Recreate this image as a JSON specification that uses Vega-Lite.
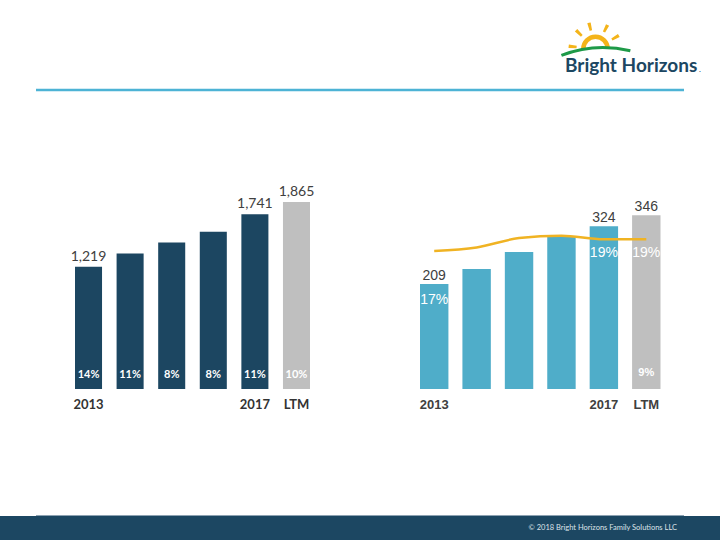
{
  "$schema": "https://vega.github.io/schema/vega-lite/v6.json",
  "width": 720,
  "height": 540,
  "autosize": {"type": "fit", "contains": "padding"},
  "padding": 0,
  "background": "white",
  "config": {"view": {"stroke": null}},
  "datasets": {
    "revenue": [
      {"period": "2013", "revenue": 1219, "growth": 0.14},
      {"period": "2014", "revenue": 1352, "growth": 0.11},
      {"period": "2015", "revenue": 1461, "growth": 0.08},
      {"period": "2016", "revenue": 1568, "growth": 0.08},
      {"period": "2017", "revenue": 1741, "growth": 0.11},
      {"period": "LTM", "revenue": 1865, "growth": 0.10}
    ],
    "ebitda": [
      {"period": "2013", "ebitda": 209, "margin": 0.170, "growth": null},
      {"period": "2014", "ebitda": 239, "margin": 0.176, "growth": null},
      {"period": "2015", "ebitda": 273, "margin": 0.192, "growth": null},
      {"period": "2016", "ebitda": 303, "margin": 0.196, "growth": null},
      {"period": "2017", "ebitda": 324, "margin": 0.190, "growth": null},
      {"period": "LTM", "ebitda": 346, "margin": 0.190, "growth": 0.09}
    ]
  },
  "resolve": {"scale": {"x": "independent", "y": "independent", "color": "independent"}},
  "layer": [
    {
      "data": {"values": [{}]},
      "mark": {"type": "rule", "stroke": "#4DB3D5", "strokeWidth": 2.5},
      "encoding": {"x": {"value": 36}, "x2": {"value": 684}, "y": {"value": 90}}
    },
    {
      "data": {"values": [{}]},
      "mark": {"type": "arc", "x": 595.5, "y": 49, "innerRadius": 19, "outerRadius": 27, "theta": -1.53, "theta2": -1.40, "fill": "#F4B41A"},
      "encoding": {}
    },
    {
      "data": {"values": [{}]},
      "mark": {"type": "arc", "x": 595.5, "y": 49, "innerRadius": 19, "outerRadius": 27, "theta": -0.87, "theta2": -0.74, "fill": "#F4B41A"},
      "encoding": {}
    },
    {
      "data": {"values": [{}]},
      "mark": {"type": "arc", "x": 595.5, "y": 49, "innerRadius": 19, "outerRadius": 27, "theta": -0.31, "theta2": -0.18, "fill": "#F4B41A"},
      "encoding": {}
    },
    {
      "data": {"values": [{}]},
      "mark": {"type": "arc", "x": 595.5, "y": 49, "innerRadius": 19, "outerRadius": 27, "theta": 0.40, "theta2": 0.53, "fill": "#F4B41A"},
      "encoding": {}
    },
    {
      "data": {"values": [{}]},
      "mark": {"type": "arc", "x": 595.5, "y": 49, "innerRadius": 19, "outerRadius": 27, "theta": 0.98, "theta2": 1.11, "fill": "#F4B41A"},
      "encoding": {}
    },
    {
      "data": {"values": [{}]},
      "mark": {"type": "arc", "x": 595.5, "y": 49, "innerRadius": 10, "outerRadius": 14.5, "theta": -1.5708, "theta2": 1.5708, "fill": "#F4B41A"},
      "encoding": {}
    },
    {
      "data": {"values": [{}]},
      "mark": {"type": "arc", "x": 603, "y": 162.5, "innerRadius": 113.5, "outerRadius": 116.5, "theta": -0.37, "theta2": 0.24, "fill": "#1E9A48"},
      "encoding": {}
    },
    {
      "data": {"values": [{"t": "Bright Horizons"}]},
      "mark": {"type": "text", "x": 565, "y": 72, "align": "left", "baseline": "alphabetic", "font": "Lato", "fontSize": 19, "fontWeight": "bold", "fill": "#1C4762"},
      "encoding": {"text": {"field": "t"}}
    },
    {
      "data": {"values": [{"t": "."}]},
      "mark": {"type": "text", "x": 699, "y": 72, "align": "left", "baseline": "alphabetic", "font": "Lato", "fontSize": 8, "fill": "#1C4762"},
      "encoding": {"text": {"field": "t"}}
    },
    {
      "data": {"name": "revenue"},
      "layer": [
        {
          "mark": {"type": "bar"},
          "encoding": {
            "x": {"field": "period", "type": "nominal", "scale": {"type": "band", "domain": ["2013", "2014", "2015", "2016", "2017", "LTM"], "range": [75, 310], "paddingInner": 0.35, "paddingOuter": 0}, "axis": null},
            "y": {"field": "revenue", "type": "quantitative", "scale": {"domain": [0, 3878], "range": [389, 0], "nice": false}, "axis": null},
            "color": {"condition": {"test": "datum.period === 'LTM'", "value": "#BFBFBF"}, "value": "#1C4661"}
          }
        },
        {
          "transform": [{"filter": "datum.period === '2013' || datum.period === '2017' || datum.period === 'LTM'"}],
          "mark": {"type": "text", "baseline": "alphabetic", "dy": -6, "font": "Lato", "fontSize": 14, "fill": "#404040"},
          "encoding": {
            "x": {"field": "period", "type": "nominal", "scale": {"type": "band", "domain": ["2013", "2014", "2015", "2016", "2017", "LTM"], "range": [75, 310], "paddingInner": 0.35, "paddingOuter": 0}, "axis": null},
            "y": {"field": "revenue", "type": "quantitative", "scale": {"domain": [0, 3878], "range": [389, 0], "nice": false}, "axis": null},
            "text": {"field": "revenue", "type": "quantitative", "format": ","}
          }
        },
        {
          "mark": {"type": "text", "baseline": "middle", "dy": -14, "font": "Lato", "fontSize": 11, "fontWeight": "bold", "fill": "#FFFFFF"},
          "encoding": {
            "x": {"field": "period", "type": "nominal", "scale": {"type": "band", "domain": ["2013", "2014", "2015", "2016", "2017", "LTM"], "range": [75, 310], "paddingInner": 0.35, "paddingOuter": 0}, "axis": null},
            "y": {"datum": 0, "type": "quantitative", "scale": {"domain": [0, 3878], "range": [389, 0], "nice": false}, "axis": null},
            "text": {"field": "growth", "type": "quantitative", "format": ".0%"}
          }
        },
        {
          "transform": [{"filter": "datum.period === '2013' || datum.period === '2017' || datum.period === 'LTM'"}],
          "mark": {"type": "text", "baseline": "middle", "dy": 16, "font": "Lato", "fontSize": 13, "fontWeight": "bold", "fill": "#333333"},
          "encoding": {
            "x": {"field": "period", "type": "nominal", "scale": {"type": "band", "domain": ["2013", "2014", "2015", "2016", "2017", "LTM"], "range": [75, 310], "paddingInner": 0.35, "paddingOuter": 0}, "axis": null},
            "y": {"datum": 0, "type": "quantitative", "scale": {"domain": [0, 3878], "range": [389, 0], "nice": false}, "axis": null},
            "text": {"field": "period", "type": "nominal"}
          }
        }
      ]
    },
    {
      "data": {"name": "ebitda"},
      "mark": {"type": "bar"},
      "encoding": {
        "x": {"field": "period", "type": "nominal", "scale": {"type": "band", "domain": ["2013", "2014", "2015", "2016", "2017", "LTM"], "range": [420, 660.5], "paddingInner": 0.33, "paddingOuter": 0}, "axis": null},
        "y": {"field": "ebitda", "type": "quantitative", "scale": {"domain": [0, 775], "range": [389, 0], "nice": false}, "axis": null},
        "color": {"condition": {"test": "datum.period === 'LTM'", "value": "#BFBFBF"}, "value": "#4FADC9"}
      }
    },
    {
      "data": {"name": "ebitda"},
      "layer": [
        {
          "mark": {"type": "line", "stroke": "#F0B323", "strokeWidth": 2.5, "interpolate": "monotone"},
          "encoding": {
            "x": {"field": "period", "type": "nominal", "scale": {"type": "band", "domain": ["2013", "2014", "2015", "2016", "2017", "LTM"], "range": [420, 660.5], "paddingInner": 0.33, "paddingOuter": 0}, "axis": null},
            "y": {"field": "margin", "type": "quantitative", "scale": {"domain": [-0.0659, 0.599], "range": [389, 0], "nice": false, "zero": false}, "axis": null}
          }
        },
        {
          "transform": [{"filter": "datum.period === '2017' || datum.period === 'LTM'"}],
          "mark": {"type": "text", "baseline": "middle", "dy": 14, "font": "Liberation Sans", "fontSize": 14, "fill": "#FFFFFF"},
          "encoding": {
            "x": {"field": "period", "type": "nominal", "scale": {"type": "band", "domain": ["2013", "2014", "2015", "2016", "2017", "LTM"], "range": [420, 660.5], "paddingInner": 0.33, "paddingOuter": 0}, "axis": null},
            "y": {"field": "margin", "type": "quantitative", "scale": {"domain": [-0.0659, 0.599], "range": [389, 0], "nice": false, "zero": false}, "axis": null},
            "text": {"field": "margin", "type": "quantitative", "format": ".0%"}
          }
        }
      ]
    },
    {
      "data": {"name": "ebitda"},
      "layer": [
        {
          "transform": [{"filter": "datum.period === '2013' || datum.period === '2017' || datum.period === 'LTM'"}],
          "mark": {"type": "text", "baseline": "alphabetic", "dy": -4, "font": "Liberation Sans", "fontSize": 14, "fill": "#404040"},
          "encoding": {
            "x": {"field": "period", "type": "nominal", "scale": {"type": "band", "domain": ["2013", "2014", "2015", "2016", "2017", "LTM"], "range": [420, 660.5], "paddingInner": 0.33, "paddingOuter": 0}, "axis": null},
            "y": {"field": "ebitda", "type": "quantitative", "scale": {"domain": [0, 775], "range": [389, 0], "nice": false}, "axis": null},
            "text": {"field": "ebitda", "type": "quantitative"}
          }
        },
        {
          "transform": [{"filter": "datum.period === '2013'"}],
          "mark": {"type": "text", "baseline": "middle", "dy": 16, "font": "Liberation Sans", "fontSize": 14, "fill": "#FFFFFF"},
          "encoding": {
            "x": {"field": "period", "type": "nominal", "scale": {"type": "band", "domain": ["2013", "2014", "2015", "2016", "2017", "LTM"], "range": [420, 660.5], "paddingInner": 0.33, "paddingOuter": 0}, "axis": null},
            "y": {"field": "ebitda", "type": "quantitative", "scale": {"domain": [0, 775], "range": [389, 0], "nice": false}, "axis": null},
            "text": {"field": "margin", "type": "quantitative", "format": ".0%"}
          }
        },
        {
          "transform": [{"filter": "isValid(datum.growth)"}],
          "mark": {"type": "text", "baseline": "middle", "dy": -16, "font": "Liberation Sans", "fontSize": 11, "fontWeight": "bold", "fill": "#FFFFFF"},
          "encoding": {
            "x": {"field": "period", "type": "nominal", "scale": {"type": "band", "domain": ["2013", "2014", "2015", "2016", "2017", "LTM"], "range": [420, 660.5], "paddingInner": 0.33, "paddingOuter": 0}, "axis": null},
            "y": {"datum": 0, "type": "quantitative", "scale": {"domain": [0, 775], "range": [389, 0], "nice": false}, "axis": null},
            "text": {"field": "growth", "type": "quantitative", "format": ".0%"}
          }
        },
        {
          "transform": [{"filter": "datum.period === '2013' || datum.period === '2017' || datum.period === 'LTM'"}],
          "mark": {"type": "text", "baseline": "middle", "dy": 16, "font": "Liberation Sans", "fontSize": 13, "fontWeight": "bold", "fill": "#404040"},
          "encoding": {
            "x": {"field": "period", "type": "nominal", "scale": {"type": "band", "domain": ["2013", "2014", "2015", "2016", "2017", "LTM"], "range": [420, 660.5], "paddingInner": 0.33, "paddingOuter": 0}, "axis": null},
            "y": {"datum": 0, "type": "quantitative", "scale": {"domain": [0, 775], "range": [389, 0], "nice": false}, "axis": null},
            "text": {"field": "period", "type": "nominal"}
          }
        }
      ]
    },
    {
      "data": {"values": [{}]},
      "mark": {"type": "rect", "fill": "#1C4762"},
      "encoding": {"x": {"value": 0}, "x2": {"value": 720}, "y": {"value": 516}, "y2": {"value": 540}}
    },
    {
      "data": {"values": [{}]},
      "mark": {"type": "rule", "stroke": "#8DA2B2", "strokeWidth": 1},
      "encoding": {"x": {"value": 36}, "x2": {"value": 684}, "y": {"value": 515.5}}
    },
    {
      "data": {"values": [{"t": "© 2018 Bright Horizons Family Solutions LLC"}]},
      "mark": {"type": "text", "x": 677, "y": 528, "align": "right", "baseline": "middle", "font": "Lato", "fontSize": 7.5, "fill": "#DDE3E8"},
      "encoding": {"text": {"field": "t"}}
    }
  ]
}
